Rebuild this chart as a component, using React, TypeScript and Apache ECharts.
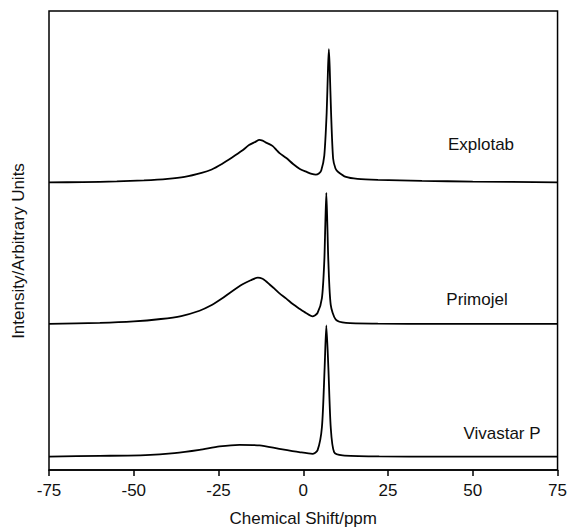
import React, { useEffect, useRef } from "react";
import * as echarts from "echarts";

const xTicks = [-75, -50, -25, 0, 25, 50, 75];
const seriesNames = ["Explotab", "Primojel", "Vivastar P"];
const baselines = [289.5, 147, 13.5];

const explotabX = [-75, -65, -55, -47, -40, -35, -30, -27, -24, -21, -18, -16, -14, -13, -12, -11, -10, -9, -8, -7, -5, -3, -1, 1, 2.5, 3.7, 4.6, 5.3, 6.2, 6.9, 7.3, 7.55, 7.8, 8.2, 8.8, 9.5, 10.3, 12.6, 16, 22, 35, 50, 75];
const explotabY = [0, 0.3, 1, 2, 3.5, 5.5, 9.5, 13, 18.5, 25, 32, 37.5, 41, 42.8, 42, 40, 38.5, 36.5, 33, 29.5, 24.5, 18.5, 13.5, 10.5, 8.5, 7.8, 9, 12, 27, 70, 115, 134, 115, 70, 24, 14, 10.5, 5.5, 3.5, 2.5, 1.5, 0.8, 0];

const primojelX = [-75, -60, -50, -42, -36, -30.6, -27, -24, -21.8, -19.5, -17.9, -15.5, -13.4, -12, -11, -10, -8.5, -7.1, -5, -3.1, -1, 0.8, 2.7, 4.2, 5.5, 6.2, 6.5, 6.8, 7.1, 7.4, 8.1, 9.6, 12.6, 22, 40, 75];
const primojelY = [0, 1, 2.5, 5, 8, 13.3, 19, 25.5, 31, 36.5, 40, 44, 46.7, 45.5, 43, 40, 35.5, 31, 25.5, 20, 15, 11, 7.7, 11, 26, 63, 100, 132, 100, 63, 19.3, 4.3, 1, 0.3, 0, 0];

const vivastarX = [-75, -60, -46.5, -38, -30.6, -24.7, -18.8, -12.9, -7.1, -1.2, 2.7, 4.2, 5.5, 6.3, 6.8, 7.4, 8.1, 9.1, 11.6, 22.4, 40, 75];
const vivastarY = [0, 0.7, 1.5, 3.5, 6.8, 10.2, 11.8, 11.2, 7.8, 4.5, 2.8, 6.2, 29.5, 89.5, 132, 89.5, 29.5, 4.5, 1.2, 0.2, 0, 0];

const seriesX = [explotabX, primojelX, vivastarX];
const seriesY = [explotabY, primojelY, vivastarY];

const FONT = "'Liberation Sans', Arial, sans-serif";

export default function App() {
  const ref = useRef<HTMLDivElement>(null);
  useEffect(() => {
    if (!ref.current) return;
    const chart = echarts.init(ref.current, undefined, { renderer: "svg" });
    const series = seriesNames.map((name, s) => ({
      name,
      type: "line",
      showSymbol: false,
      smooth: 0.25,
      lineStyle: { color: "#000", width: 1.8 },
      data: seriesX[s].map((x, i) => [x, baselines[s] + seriesY[s][i]]),
    }));
    const labelStyle = { fill: "#111", fontSize: 17, fontFamily: FONT, align: "center", verticalAlign: "middle" };
    chart.setOption({
      animation: false,
      backgroundColor: "#fff",
      grid: {
        left: 49,
        right: 11,
        top: 11,
        bottom: 59,
        show: true,
        borderColor: "#000",
        borderWidth: 1.5,
      },
      xAxis: {
        type: "value",
        min: -75,
        max: 75,
        interval: 25,
        name: "Chemical Shift/ppm",
        nameLocation: "middle",
        nameGap: 40,
        nameTextStyle: { color: "#111", fontSize: 17, fontFamily: FONT },
        axisLine: { show: true, lineStyle: { color: "#000", width: 1.5 } },
        axisTick: { show: true, inside: false, length: 6, lineStyle: { color: "#000", width: 1.5 } },
        axisLabel: {
          color: "#111",
          fontSize: 17,
          fontFamily: FONT,
          margin: 12,
          customValues: xTicks,
        },
        splitLine: { show: false },
      },
      yAxis: {
        type: "value",
        min: 0,
        max: 462,
        show: false,
        splitLine: { show: false },
      },
      graphic: [
        {
          type: "text",
          x: 18,
          y: 251,
          rotation: Math.PI / 2,
          style: {
            text: "Intensity/Arbitrary Units",
            fill: "#111",
            fontSize: 17,
            fontFamily: FONT,
            align: "center",
            verticalAlign: "middle",
          },
        },
        { type: "text", x: 481, y: 144, style: { ...labelStyle, text: seriesNames[0] } },
        { type: "text", x: 477, y: 299, style: { ...labelStyle, text: seriesNames[1] } },
        { type: "text", x: 502, y: 433, style: { ...labelStyle, text: seriesNames[2] } },
      ],
      series,
    });
    return () => chart.dispose();
  }, []);
  return <div ref={ref} style={{ position: "fixed", left: 0, top: 0, width: 570, height: 532 }} />;
}
